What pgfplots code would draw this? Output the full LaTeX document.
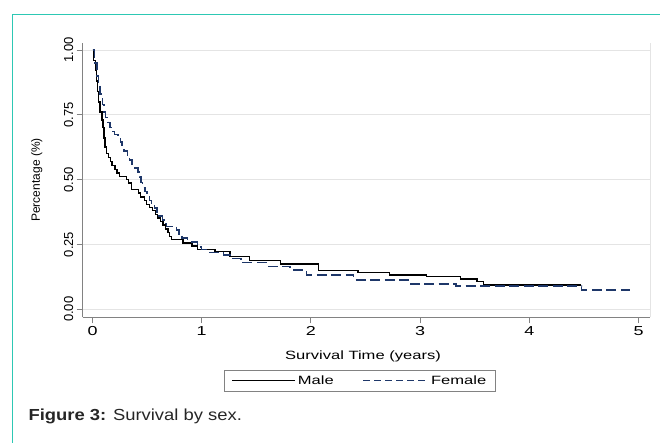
\documentclass[border=0pt]{standalone}
\usepackage{fontspec}
\setmainfont{Liberation Sans}
\usepackage{pgfplots}
\pgfplotsset{compat=1.18}
\definecolor{framecol}{RGB}{45,200,180}
\definecolor{femcol}{RGB}{30,55,105}
\definecolor{axcol}{RGB}{130,130,130}
\definecolor{gridcol}{RGB}{228,228,228}
\newcommand{\sx}[1]{\scalebox{1.38}[1]{#1}}
\newcommand{\lf}{\fontsize{12}{14}\selectfont}

\begin{document}
\begin{tikzpicture}[x=1pt,y=1pt]
\useasboundingbox (0,0) rectangle (660,442);
% frame of the figure box
\draw[framecol, line width=1.5pt] (12.7,-10) -- (12.7,427.7) -- (680,427.7);

\begin{axis}[
  at={(82.7pt,124.7pt)}, anchor=south west,
  scale only axis, width=567.3pt, height=274.6pt,
  xmin=-0.09, xmax=5.105, ymin=-0.031, ymax=1.028,
  axis lines*=left,
  axis line style={axcol, line width=0.9pt},
  tick align=outside, major tick length=6pt,
  tick style={axcol, line width=0.9pt},
  xtick={0,1,2,3,4,5},
  xticklabels={\sx{0},\sx{1},\sx{2},\sx{3},\sx{4},\sx{5}},
  ytick={0,0.25,0.5,0.75,1},
  yticklabels={0.00,0.25,0.50,0.75,1.00},
  ymajorgrids, grid style={gridcol, line width=0.9pt},
  xticklabel style={anchor=north, font=\fontsize{13}{14}\selectfont},
  yticklabel style={rotate=90, anchor=south, font=\fontsize{13}{14}\selectfont},
  xlabel={\lf\sx{Survival Time (years)}},
  ylabel={\lf Percentage (\%)},
  every axis x label/.style={at={(axis description cs:0.494,-0.1435)}, anchor=center, font=\lf},
  every axis y label/.style={at={(axis description cs:-0.0811,0.5)}, rotate=90, anchor=center, font=\lf},
  legend style={at={(axis description cs:0.4888,-0.2312)}, anchor=center,
    draw=axcol, line width=0.7pt, legend columns=2,
    font=\lf, inner xsep=7pt, inner ysep=3pt,
    /tikz/every even column/.append style={column sep=27pt}},
  clip=false,
]
\addplot[const plot, black, line width=1.4pt,
  legend image code/.code={\draw[black, line width=1.2pt] (0pt,0pt) -- (63pt,0pt);}]
  coordinates {
  (0,1.0) (0.01,0.96) (0.025,0.92) (0.035,0.88) (0.045,0.84) (0.055,0.80)
  (0.07,0.76) (0.085,0.73) (0.095,0.70) (0.105,0.66) (0.115,0.625) (0.13,0.60)
  (0.145,0.585) (0.165,0.57) (0.18,0.555) (0.205,0.54) (0.225,0.525) (0.245,0.512)
  (0.31,0.50) (0.33,0.487) (0.355,0.462) (0.42,0.448) (0.44,0.433) (0.475,0.42)
  (0.495,0.405) (0.52,0.392) (0.55,0.38) (0.575,0.365) (0.595,0.352) (0.62,0.338)
  (0.645,0.325) (0.67,0.31) (0.69,0.295) (0.705,0.28) (0.725,0.268) (0.83,0.255)
  (0.91,0.244) (0.96,0.231) (1.12,0.222) (1.26,0.203) (1.44,0.188) (1.72,0.175)
  (2.07,0.149) (2.43,0.141) (2.72,0.132) (3.06,0.126) (3.37,0.117) (3.52,0.107)
  (3.58,0.094) (4.47,0.094)
  };
\addlegendentry{\lf\sx{Male}}
\addplot[const plot, femcol, line width=1.4pt, dash pattern=on 10pt off 4.5pt,
  legend image code/.code={\draw[femcol, line width=1.2pt, dash pattern=on 7pt off 4pt] (0pt,0pt) -- (65pt,0pt);}]
  coordinates {
  (0,1.0) (0.02,0.95) (0.04,0.90) (0.055,0.87) (0.07,0.83) (0.09,0.79)
  (0.105,0.76) (0.12,0.74) (0.14,0.72) (0.16,0.70) (0.18,0.685) (0.2,0.675)
  (0.235,0.665) (0.255,0.645) (0.27,0.625) (0.29,0.61) (0.32,0.59) (0.34,0.575)
  (0.36,0.56) (0.39,0.545) (0.415,0.53) (0.43,0.51) (0.445,0.49) (0.46,0.47)
  (0.48,0.455) (0.5,0.44) (0.52,0.42) (0.54,0.405) (0.57,0.39) (0.59,0.375)
  (0.61,0.36) (0.64,0.345) (0.665,0.33) (0.68,0.32) (0.77,0.305) (0.79,0.29)
  (0.82,0.275) (0.87,0.26) (0.96,0.24) (1.0,0.23) (1.07,0.22) (1.2,0.21)
  (1.26,0.195) (1.36,0.18) (1.6,0.166) (1.81,0.152) (1.96,0.132) (2.39,0.113)
  (2.91,0.098) (3.33,0.09) (4.48,0.074) (4.92,0.074)
  };
\addlegendentry{\lf\sx{Female}}
\draw[gridcol, line width=0.9pt] (rel axis cs:1,0) -- (rel axis cs:1,1);
\end{axis}

\node[anchor=west, text=black!85, font=\fontsize{16}{18}\selectfont] at (25,25.3)
  {\scalebox{1.15}[1]{\textbf{Figure 3:} Survival by sex.}};
\end{tikzpicture}
\end{document}
